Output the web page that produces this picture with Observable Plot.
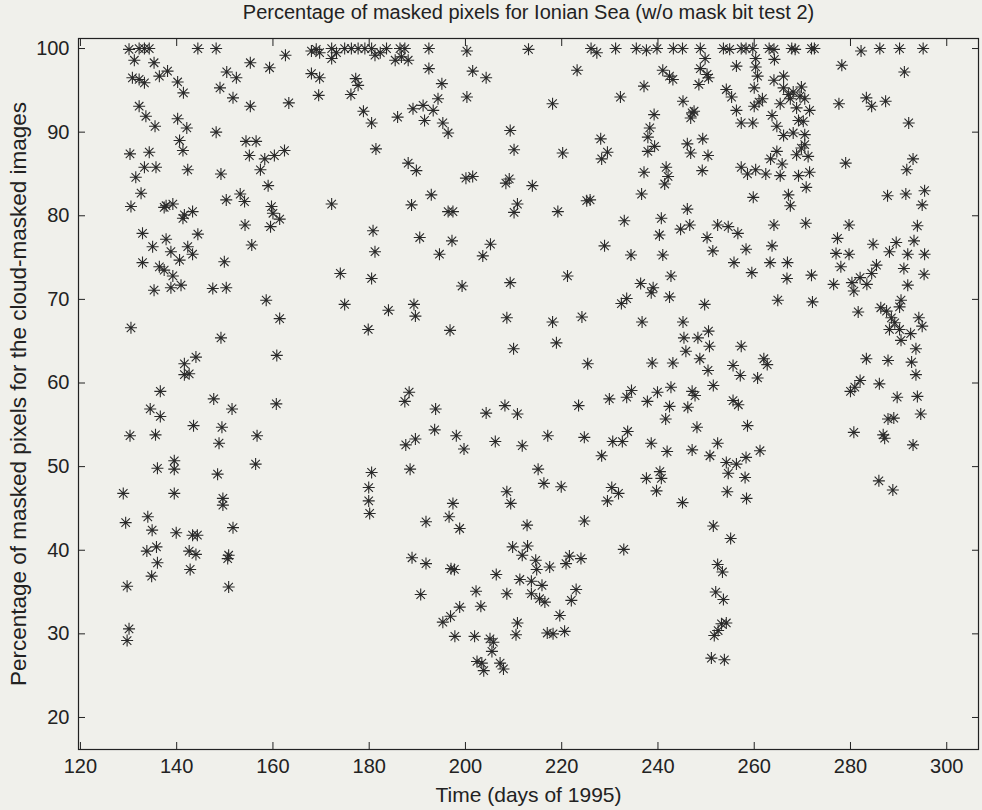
<!DOCTYPE html>
<html><head><meta charset="utf-8">
<script src="https://cdn.jsdelivr.net/npm/d3@7"></script>
<script src="https://cdn.jsdelivr.net/npm/@observablehq/plot@0.6"></script>
<style>
html,body{margin:0;padding:0;background:#f0f0eb;}
#chart svg{display:block;}
</style></head><body><div id="chart"></div>
<script>
const title = "Percentage of masked pixels for Ionian Sea (w/o mask bit test 2)";
const xLabel = "Time (days of 1995)";
const yLabel = "Percentage of masked pixels for the cloud-masked images";
const xTicks = [120,140,160,180,200,220,240,260,280,300];
const yTicks = [20,30,40,50,60,70,80,90,100];

// [day, percent] pairs, grouped by chart region
const upperEarly = [[130.1,99.9],[132.2,100],[133.3,100],[134.3,100],[131.2,98.6],[135.3,98.3],[130.8,96.5],[132.2,96.3],[133.3,95.9],[136.4,96.7],[138.1,97.3],[140.2,96.0],[141.4,94.7],[132.2,93.1],[133.6,91.9],[135.5,90.7],[140.2,91.6],[142.1,90.5],[140.6,89.0],[141.3,87.8],[130.3,87.4],[134.3,87.6],[133.3,85.8],[135.7,85.8],[131.5,84.6],[132.6,82.7],[130.5,81.1],[137.8,81.2],[139.2,81.4],[137.4,81.0],[141.6,80.1],[143.3,80.5],[141.3,79.7],[132.9,77.9],[137.8,77.2],[144.4,77.8],[135.0,76.3],[142.3,76.3],[138.8,75.7],[143.3,75.4],[144.4,100],[148.2,100],[155.3,98.3],[159.3,97.7],[162.6,99.2],[150.4,97.2],[152.4,96.5],[149.0,95.3],[151.7,94.1],[155.3,93.1],[163.3,93.5],[148.2,90.0],[154.4,88.9],[156.5,88.9],[155.1,87.2],[158.3,86.8],[160.3,87.2],[162.4,87.8],[157.4,85.5],[149.2,85.0],[142.3,85.5],[159.0,83.6],[150.3,81.9],[153.2,82.6],[154.1,81.7],[159.7,81.1],[160.0,80.3],[161.4,79.6],[154.2,78.9],[159.5,78.7],[155.6,76.5],[172.2,81.4],[168.0,99.7],[169.0,99.9],[169.7,99.5],[172.2,100],[172.2,98.8],[173.2,99.5],[174.9,100],[176.3,100],[177.7,100],[179.1,100],[180.5,100],[181.2,99.2],[168.0,97.0],[169.7,96.5],[169.5,94.4],[176.2,94.5],[177.7,95.6],[177.2,96.4],[178.8,92.5],[180.5,91.1],[181.4,88.0],[180.8,78.2],[181.2,75.7]];
const upperMid = [[182.3,99.5],[183.6,100],[185.4,98.6],[186.4,100],[187.4,100],[188.1,98.6],[186.7,99.0],[192.4,100],[200.3,99.7],[213.1,99.9],[226.1,100],[227.3,99.5],[231.2,100],[235.5,100],[237.6,99.8],[239.8,100],[243.2,100],[192.4,97.6],[201.5,97.3],[204.3,96.5],[195.1,95.8],[194.3,94.0],[200.3,94.2],[189.1,92.8],[191.2,93.2],[193.3,92.6],[185.9,91.8],[191.5,91.4],[195.3,91.1],[196.4,89.9],[218.1,93.4],[223.2,97.4],[232.2,94.2],[237.1,95.5],[241.0,97.4],[242.4,96.7],[243.1,96.3],[239.2,92.1],[238.3,90.5],[237.9,89.4],[239.3,88.3],[237.9,87.7],[209.3,90.2],[210.1,87.9],[188.1,86.3],[189.8,85.4],[200.1,84.5],[201.5,84.7],[208.4,83.9],[209.1,84.4],[213.9,83.6],[220.2,87.5],[228.1,89.2],[228.3,86.8],[229.5,87.6],[241.7,85.8],[242.1,84.7],[241.4,83.8],[237.1,85.2],[236.6,82.6],[192.9,82.5],[188.8,81.3],[196.4,80.5],[197.4,80.5],[210.8,81.4],[210.1,80.4],[219.2,80.5],[225.9,81.9],[225.2,81.8],[233.0,79.4],[240.7,79.7],[240.3,77.7],[190.5,77.4],[197.2,77.0],[205.2,76.6],[228.9,76.4],[194.6,75.4],[203.6,75.2],[234.4,75.3],[241.0,75.3]];
const upperLate = [[245.1,100],[248.8,100],[253.6,100],[254.9,99.9],[257.3,100],[258.3,100],[259.7,100],[263.1,100],[264.1,99.9],[267.8,100],[268.5,99.9],[271.9,100],[272.5,100],[249.8,98.8],[248.8,97.6],[250.2,96.9],[250.5,96.5],[248.5,95.7],[256.3,97.9],[260.3,98.8],[260.3,97.8],[260.7,96.7],[264.2,98.7],[254.2,95.1],[255.3,94.2],[260.0,95.3],[261.7,94.0],[261.0,93.6],[266.1,96.7],[264.1,96.2],[266.1,95.3],[267.1,94.5],[268.1,94.8],[269.8,95.4],[270.5,94.0],[269.5,94.3],[267.5,94.0],[265.4,93.4],[245.2,93.7],[247.1,92.3],[246.8,91.7],[247.5,92.5],[256.3,92.6],[260.0,93.1],[257.3,91.1],[259.7,91.1],[263.7,92.0],[264.7,90.7],[266.1,89.6],[268.1,89.9],[269.2,91.4],[270.2,91.3],[270.5,89.7],[271.5,92.6],[268.8,92.9],[246.1,88.6],[249.3,89.2],[246.8,87.5],[250.4,87.2],[249.2,85.4],[257.3,85.8],[258.6,85.0],[260.3,85.5],[262.4,85.0],[265.4,84.8],[269.2,84.8],[271.5,85.2],[263.4,86.8],[264.7,87.7],[265.8,86.2],[268.8,87.3],[269.8,88.1],[271.2,87.1],[270.5,88.5],[270.8,83.4],[267.1,82.5],[267.5,81.2],[259.8,82.2],[246.1,80.8],[244.7,78.4],[246.6,78.9],[252.4,78.9],[254.6,78.7],[256.6,77.9],[250.2,77.4],[264.1,78.9],[270.7,79.1],[251.4,75.8],[258.3,76.0],[263.7,76.4],[278.2,98.0],[277.6,93.4],[282.2,99.7],[286.1,100],[290.2,100],[295.1,100],[291.2,97.2],[283.3,94.1],[284.4,93.1],[287.3,93.7],[292.1,91.1],[279.0,86.3],[293.0,86.8],[291.7,85.5],[287.7,82.4],[291.5,82.6],[295.4,83.0],[294.9,81.3],[279.7,78.9],[293.9,78.8],[277.3,77.3],[284.7,76.6],[289.5,76.8],[293.2,77.0],[277.0,75.5],[279.7,75.4],[288.1,75.7],[291.9,75.4],[295.4,75.4]];
const middleEarly = [[132.9,74.4],[136.4,73.9],[137.4,73.5],[139.2,72.8],[138.8,71.4],[140.9,71.7],[135.3,71.1],[140.6,74.7],[149.9,74.5],[147.5,71.3],[150.3,71.4],[130.5,66.6],[149.2,65.4],[144.0,63.1],[141.6,62.3],[142.6,61.1],[141.6,61.0],[136.6,59.0],[134.5,56.9],[136.6,56.0],[147.7,58.1],[151.5,56.9],[143.5,54.9],[149.4,54.7],[130.3,53.7],[135.6,53.8],[148.8,52.8],[156.7,53.7],[160.7,57.5],[160.8,63.3],[161.4,67.7],[158.6,69.9],[174.0,73.1],[174.9,69.4],[180.5,72.5],[179.8,66.4],[136.0,49.8],[139.5,50.7],[139.5,49.7],[148.5,49.1],[156.4,50.3],[128.9,46.8],[139.5,46.8],[149.6,46.2],[149.6,45.4],[180.5,49.3],[179.9,47.5],[179.9,45.9]];
const middleMid = [[199.3,71.6],[209.3,72.0],[221.2,72.8],[184.0,68.7],[189.3,69.4],[189.6,68.0],[196.8,66.3],[208.6,67.8],[210.0,64.1],[218.1,67.3],[218.9,64.8],[224.2,67.9],[225.4,62.3],[236.4,71.9],[239.0,71.4],[238.6,70.8],[242.7,72.8],[242.4,70.3],[232.4,69.5],[233.5,70.1],[236.7,67.3],[238.8,62.4],[243.1,62.4],[188.3,58.9],[187.4,57.8],[193.8,56.9],[204.3,56.4],[208.2,57.3],[210.8,56.3],[223.5,57.3],[229.9,58.1],[234.5,59.1],[233.5,58.3],[237.8,57.8],[239.9,58.9],[242.7,59.5],[242.4,57.2],[241.6,55.7],[193.6,54.4],[189.6,53.3],[187.6,52.6],[198.1,53.7],[199.7,52.1],[206.2,53.0],[211.8,52.5],[217.1,53.7],[224.7,53.5],[230.6,53.0],[232.6,53.0],[233.7,54.2],[228.3,51.3],[238.6,52.8],[241.9,51.8],[188.5,49.7],[215.1,49.7],[216.3,48.0],[219.9,47.6],[208.6,47.0],[197.4,45.6],[209.4,45.6],[230.4,47.5],[231.8,46.8],[229.5,45.9],[237.6,48.6],[240.4,49.4],[240.7,48.6],[239.7,47.1]];
const middleLate = [[255.8,74.4],[263.3,74.4],[266.9,74.4],[259.5,73.2],[266.8,72.5],[271.9,72.9],[278.0,73.9],[291.1,73.7],[295.3,73.0],[291.9,71.7],[276.5,71.8],[280.3,72.0],[280.7,71.0],[282.0,72.6],[283.4,71.8],[284.4,73.1],[285.4,74.1],[249.7,69.4],[264.9,69.9],[272.1,69.7],[281.6,68.5],[286.3,69.0],[287.5,68.6],[288.5,67.8],[289.2,67.2],[290.2,69.1],[290.5,69.9],[288.1,66.4],[290.2,66.4],[290.5,65.1],[292.5,65.9],[294.2,67.8],[294.9,66.8],[293.6,64.1],[292.7,62.5],[293.6,61.0],[245.2,67.3],[245.4,65.4],[248.3,65.4],[250.5,66.2],[245.8,63.8],[248.7,62.9],[250.7,64.4],[250.4,61.5],[257.3,64.4],[262.0,62.9],[262.7,62.2],[255.6,62.1],[257.1,60.9],[260.7,60.6],[283.3,62.9],[287.8,62.7],[282.0,60.3],[280.0,59.0],[280.9,59.5],[286.0,59.9],[289.7,58.3],[293.9,58.4],[294.6,56.3],[247.1,59.0],[247.7,58.5],[251.5,59.7],[246.2,57.1],[255.6,57.9],[256.7,57.4],[258.6,54.9],[248.1,54.7],[252.4,52.8],[247.1,52.0],[250.8,51.3],[254.2,50.5],[256.3,50.3],[254.6,49.2],[258.3,51.1],[261.2,51.9],[258.1,48.7],[254.4,47.0],[258.4,46.2],[245.1,45.7],[280.7,54.1],[286.8,53.8],[287.1,53.4],[287.8,55.7],[289.0,55.8],[293.0,52.6],[285.9,48.3],[288.8,47.2]];
const lowerEarly = [[129.4,43.3],[134.0,44.0],[134.9,42.4],[139.9,42.1],[143.3,41.8],[144.3,41.8],[151.7,42.7],[180.1,44.4],[133.8,39.9],[135.8,40.4],[136.0,38.5],[142.6,39.9],[144.0,39.5],[142.8,37.7],[134.8,36.9],[150.8,39.4],[150.6,39.0],[129.7,35.7],[150.8,35.6],[130.1,30.6],[129.7,29.2]];
const lowerMid = [[196.6,44.0],[198.8,42.6],[191.8,43.4],[212.8,43.0],[224.7,43.5],[209.8,40.4],[212.9,40.5],[211.8,39.4],[188.9,39.1],[191.8,38.4],[197.0,37.8],[197.7,37.7],[206.4,37.1],[214.6,38.8],[214.8,37.7],[217.5,38.0],[221.6,39.3],[220.9,38.4],[224.0,39.0],[232.9,40.1],[211.3,36.5],[213.7,36.3],[215.9,35.8],[213.7,34.8],[215.4,34.2],[216.5,33.8],[223.0,35.3],[222.0,34.0],[190.7,34.7],[202.2,35.1],[208.6,34.8],[198.8,33.2],[203.2,33.3],[196.9,32.1],[195.3,31.4],[219.6,32.2],[210.8,31.3],[197.8,29.7],[201.9,29.7],[210.5,29.9],[217.0,30.1],[218.2,30.0],[220.6,30.3],[205.1,29.4],[205.8,29.0],[205.5,27.9],[203.4,26.5],[203.8,25.6],[202.4,26.7],[207.2,26.5],[207.9,25.8]];
const lowerLate = [[251.5,42.9],[255.1,41.4],[252.4,38.3],[253.4,37.4],[252.0,35.0],[253.6,34.1],[253.2,31.2],[254.2,31.3],[252.5,30.4],[251.7,29.8],[251.1,27.1],[253.8,26.9]];

const points = [upperEarly, upperMid, upperLate, middleEarly, middleMid, middleLate, lowerEarly, lowerMid, lowerLate]
  .flat().map(([day, pct]) => ({day, pct}));

// MATLAB-style 8-armed asterisk marker
const asterisk = {
  draw(ctx, size) {
    const r = Math.sqrt(size / Math.PI);
    const d = r * Math.SQRT1_2;
    ctx.moveTo(-r, 0); ctx.lineTo(r, 0);
    ctx.moveTo(0, -r); ctx.lineTo(0, r);
    ctx.moveTo(-d, -d); ctx.lineTo(d, d);
    ctx.moveTo(-d, d); ctx.lineTo(d, -d);
  }
};

const font = "'Liberation Sans', Arial, Helvetica, sans-serif";
const ink = "#222";

const chart = Plot.plot({
  width: 982,
  height: 810,
  marginLeft: 78,
  marginRight: 4,
  marginTop: 38,
  marginBottom: 61,
  style: {background: "#f0f0eb", fontFamily: font, fontSize: "20px", color: ink},
  x: {domain: [119.6, 306.6]},
  y: {domain: [16.17, 101.2]},
  marks: [
    Plot.axisX(xTicks, {anchor: "bottom", tickSize: 0, tickPadding: 9, label: null, fontSize: 20}),
    Plot.axisX(xTicks, {anchor: "bottom", tickSize: -7, tickFormat: () => "", label: null}),
    Plot.axisX(xTicks, {anchor: "top", tickSize: -7, tickFormat: () => "", label: null}),
    Plot.axisY(yTicks, {anchor: "left", tickSize: 0, tickPadding: 9, label: null, fontSize: 20}),
    Plot.axisY(yTicks, {anchor: "left", tickSize: -7, tickFormat: () => "", label: null}),
    Plot.axisY(yTicks, {anchor: "right", tickSize: -7, tickFormat: () => "", label: null}),
    Plot.frame({stroke: ink, strokeWidth: 1.2}),
    Plot.dot(points, {x: "day", y: "pct", symbol: asterisk, r: 6, stroke: "#2a2a2a", strokeWidth: 1.1, fill: "none"}),
    Plot.text([title], {frameAnchor: "top", dy: -26, lineAnchor: "middle", textAnchor: "middle", fontSize: 20, fill: ink}),
    Plot.text([xLabel], {frameAnchor: "bottom", dy: 46, lineAnchor: "middle", textAnchor: "middle", fontSize: 21, fill: ink}),
    Plot.text([yLabel], {frameAnchor: "left", dx: -60, rotate: -90, lineAnchor: "middle", textAnchor: "middle", fontSize: 22.5, fill: ink})
  ]
});
document.getElementById("chart").appendChild(chart);
</script>
</body></html>
